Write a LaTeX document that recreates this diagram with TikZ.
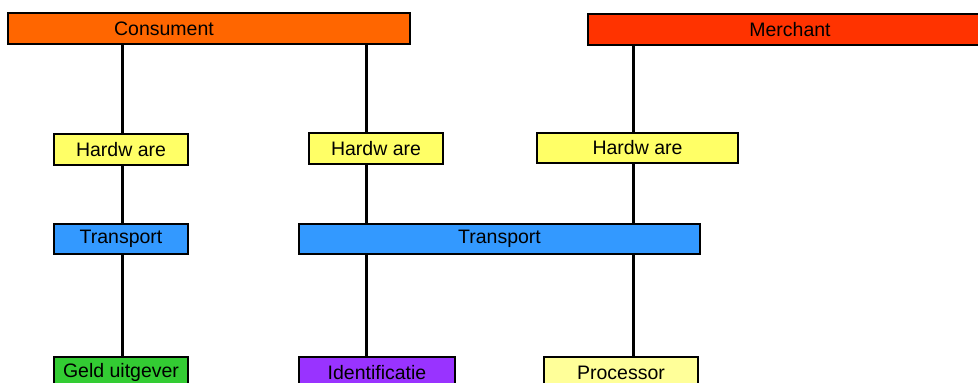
\documentclass[tikz,border=0pt]{standalone}
\usepackage{fontspec}
\setmainfont{Liberation Sans}
\usepackage{xcolor}
\definecolor{oranje}{HTML}{FF6600}
\definecolor{rood}{HTML}{FF3300}
\definecolor{geel}{HTML}{FFFF66}
\definecolor{lichtgeel}{HTML}{FFFF99}
\definecolor{blauw}{HTML}{3399FF}
\definecolor{groen}{HTML}{33CC33}
\definecolor{paars}{HTML}{9933FF}

\begin{document}
\begin{tikzpicture}[x=1pt,y=-1pt]
			\clip (0,0) rectangle (978,383);
			\useasboundingbox (0,0) rectangle (978,383);
			\tikzstyle{every node}=[rectangle,draw=black,line width=1.3pt,inner sep=0pt,minimum height=31pt,font=\fontsize{19.5}{21}\selectfont]
			\tikzstyle{lijn}=[line width=3pt,black]
			% lagen
			\node[fill=oranje,minimum width=402pt,label={[draw=none,xshift=-45pt,font=\fontsize{19.5}{21}\selectfont]center:Consument}] (cons) at (209,28.5) {};
			\node[fill=rood,minimum width=404pt] (merch) at (790,29.5) {Merchant};
			\node[fill=geel,minimum width=134pt] (hw1) at (121,149.5) {Hardw are};
			\node[fill=geel,minimum width=134pt] (hw2) at (376,148.5) {Hardw are};
			\node[fill=geel,minimum width=201pt,minimum height=30pt] (hw3) at (637.5,148) {Hardw are};
			\node[fill=blauw,minimum width=134pt,minimum height=30pt] (tr1) at (121,239) {Transport};
			\node[fill=blauw,minimum width=401pt,minimum height=30pt] (tr2) at (499.5,239) {Transport};
			\node[fill=groen,minimum width=134pt] (geld) at (121,372.5) {Geld uitgever};
			\node[fill=paars,minimum width=156pt] (ident) at (377,372.5) {Identificatie};
			\node[fill=lichtgeel,minimum width=154pt] (proc) at (621,372.5) {Processor};
			% verbindingen
			\draw[lijn] (hw1.north -| 122,0) -- (cons.south -| 122,0);
			\draw[lijn] (hw1.south -| 122,0) -- (tr1.north -| 122,0);
			\draw[lijn] (tr1.south -| 122,0) -- (geld.north -| 122,0);
			\draw[lijn] (hw2.north -| 366,0) -- (cons.south -| 366,0);
			\draw[lijn] (hw2.south -| 366,0) -- (tr2.north -| 366,0);
			\draw[lijn] (tr2.south -| 366,0) -- (ident.north -| 366,0);
			\draw[lijn] (hw3.north -| 633,0) -- (merch.south -| 633,0);
			\draw[lijn] (hw3.south -| 633,0) -- (tr2.north -| 633,0);
			\draw[lijn] (tr2.south -| 633,0) -- (proc.north -| 633,0);
		\end{tikzpicture}
\end{document}
